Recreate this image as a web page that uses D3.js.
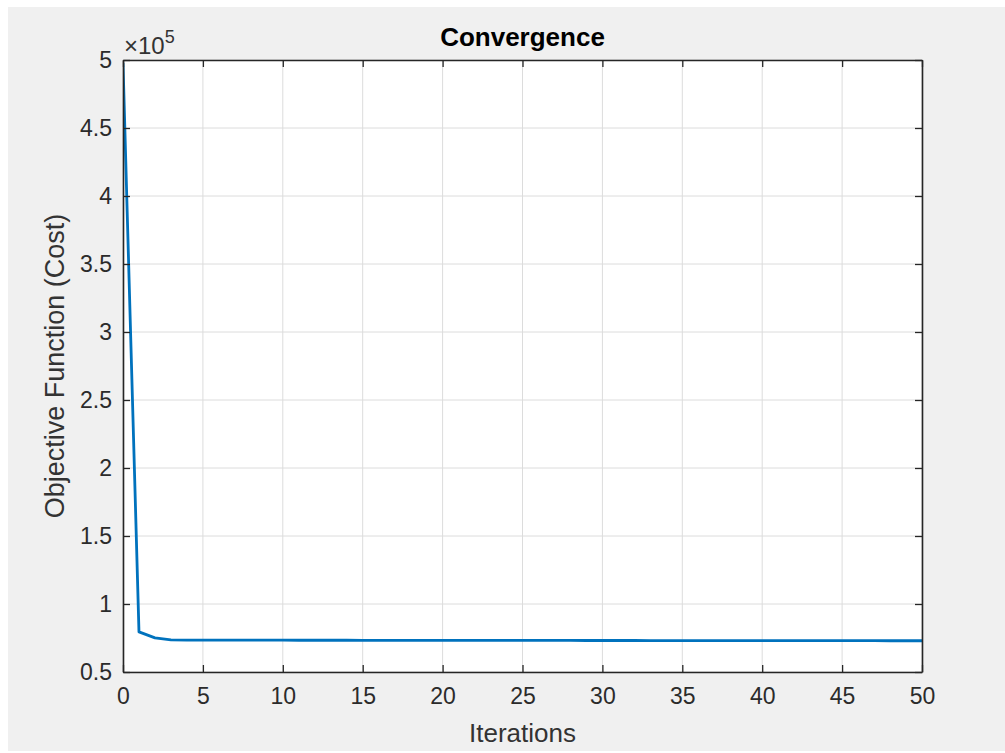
<!DOCTYPE html>
<html>
<head>
<meta charset="utf-8">
<script src="https://cdn.jsdelivr.net/npm/d3@7"></script>
<style>
  body { margin: 0; background: #fff; }
  text { font-family: "Liberation Sans", Arial, sans-serif; fill: #2b2b2b; }
</style>
</head>
<body>
<div class="display"></div>
<script>
// Convergence curve, MATLAB style

const WIDTH = 1005;
const HEIGHT = 753;

// iteration numbers and cost per iteration
const iterations = d3.range(0, 51);
const cost = [
  498000, 79500, 75100, 73600, 73500, 73480, 73460, 73440, 73420, 73400,
  73380, 73360, 73350, 73340, 73330, 73320, 73310, 73300, 73290, 73280,
  73270, 73260, 73250, 73240, 73230, 73220, 73210, 73200, 73190, 73180,
  73170, 73160, 73150, 73140, 73130, 73120, 73110, 73100, 73090, 73080,
  73070, 73060, 73050, 73040, 73030, 73020, 73010, 73000, 72990, 72980,
  72970
];
const xTicks = [0, 5, 10, 15, 20, 25, 30, 35, 40, 45, 50];
const yTicks = [0.5, 1, 1.5, 2, 2.5, 3, 3.5, 4, 4.5, 5];

const plot = { left: 123, right: 922, top: 60, bottom: 672 };

const svg = d3.select('.display')
  .append('svg')
  .attr('width', WIDTH)
  .attr('height', HEIGHT);

// figure background
svg.append('rect')
  .attr('x', 8).attr('y', 7)
  .attr('width', WIDTH - 8).attr('height', HEIGHT - 9)
  .attr('fill', '#f0f0f0');

const x = d3.scaleLinear().domain([0, 50]).range([plot.left, plot.right]);
const y = d3.scaleLinear().domain([0.5, 5]).range([plot.bottom, plot.top]);

svg.append('rect')
  .attr('x', plot.left).attr('y', plot.top)
  .attr('width', plot.right - plot.left).attr('height', plot.bottom - plot.top)
  .attr('fill', '#fff');

// grid
svg.append('g')
  .selectAll('line')
  .data(xTicks)
  .enter()
  .append('line')
  .attr('x1', d => x(d)).attr('x2', d => x(d))
  .attr('y1', plot.top).attr('y2', plot.bottom)
  .attr('stroke', '#dcdcdc').attr('stroke-width', 1);

svg.append('g')
  .selectAll('line')
  .data(yTicks)
  .enter()
  .append('line')
  .attr('x1', plot.left).attr('x2', plot.right)
  .attr('y1', d => y(d)).attr('y2', d => y(d))
  .attr('stroke', '#dcdcdc').attr('stroke-width', 1);

// curve
const line = d3.line()
  .x((d, i) => x(iterations[i]))
  .y(d => y(d / 1e5));

svg.append('clipPath').attr('id', 'clip')
  .append('rect')
  .attr('x', plot.left).attr('y', plot.top - 2)
  .attr('width', plot.right - plot.left).attr('height', plot.bottom - plot.top + 2);

svg.append('path')
  .datum(cost)
  .attr('d', line)
  .attr('clip-path', 'url(#clip)')
  .attr('fill', 'none')
  .attr('stroke', '#0072bd')
  .attr('stroke-width', 2.8)
  .attr('stroke-linejoin', 'round');

// axes, ticks pointing inward on all four sides
const axisColor = '#262626';
const tickLen = 7;

const bottomAxis = d3.axisBottom(x).tickValues(xTicks).tickSizeInner(-tickLen).tickSizeOuter(0).tickPadding(16);
const topAxis = d3.axisTop(x).tickValues(xTicks).tickSizeInner(-tickLen).tickSizeOuter(0).tickFormat('');
const leftAxis = d3.axisLeft(y).tickValues(yTicks).tickSizeInner(-tickLen).tickSizeOuter(0).tickPadding(11).tickFormat(d3.format(''));
const rightAxis = d3.axisRight(y).tickValues(yTicks).tickSizeInner(-tickLen).tickSizeOuter(0).tickFormat('');

function styleAxis(g) {
  g.select('.domain').attr('stroke', axisColor).attr('stroke-width', 1.6);
  g.selectAll('.tick line').attr('stroke', axisColor).attr('stroke-width', 1.3);
  g.selectAll('.tick text')
    .attr('fill', '#333')
    .style('font-family', '"Liberation Sans", Arial, sans-serif')
    .style('font-size', '23px');
}

svg.append('g').attr('transform', `translate(0,${plot.bottom})`).call(bottomAxis).call(styleAxis);
svg.append('g').attr('transform', `translate(0,${plot.top})`).call(topAxis).call(styleAxis);
svg.append('g').attr('transform', `translate(${plot.left},0)`).call(leftAxis).call(styleAxis);
svg.append('g').attr('transform', `translate(${plot.right},0)`).call(rightAxis).call(styleAxis);

// exponent label
const expo = svg.append('text')
  .attr('x', plot.left + 1)
  .attr('y', 54)
  .style('font-size', '24px')
  .style('fill', '#333');
expo.append('tspan').text('\u00d710');
expo.append('tspan').attr('dy', -11).style('font-size', '18px').text('5');

// titles
svg.append('text')
  .attr('x', (plot.left + plot.right) / 2)
  .attr('y', 46)
  .attr('text-anchor', 'middle')
  .style('font-size', '26px')
  .style('font-weight', 'bold')
  .style('fill', '#000')
  .text('Convergence');

svg.append('text')
  .attr('x', (plot.left + plot.right) / 2)
  .attr('y', 742)
  .attr('text-anchor', 'middle')
  .style('font-size', '26px')
  .style('fill', '#333')
  .text('Iterations');

svg.append('text')
  .attr('transform', `translate(64,${(plot.top + plot.bottom) / 2}) rotate(-90)`)
  .attr('text-anchor', 'middle')
  .style('font-size', '27px')
  .style('fill', '#333')
  .text('Objective Function (Cost)');
</script>
</body>
</html>
